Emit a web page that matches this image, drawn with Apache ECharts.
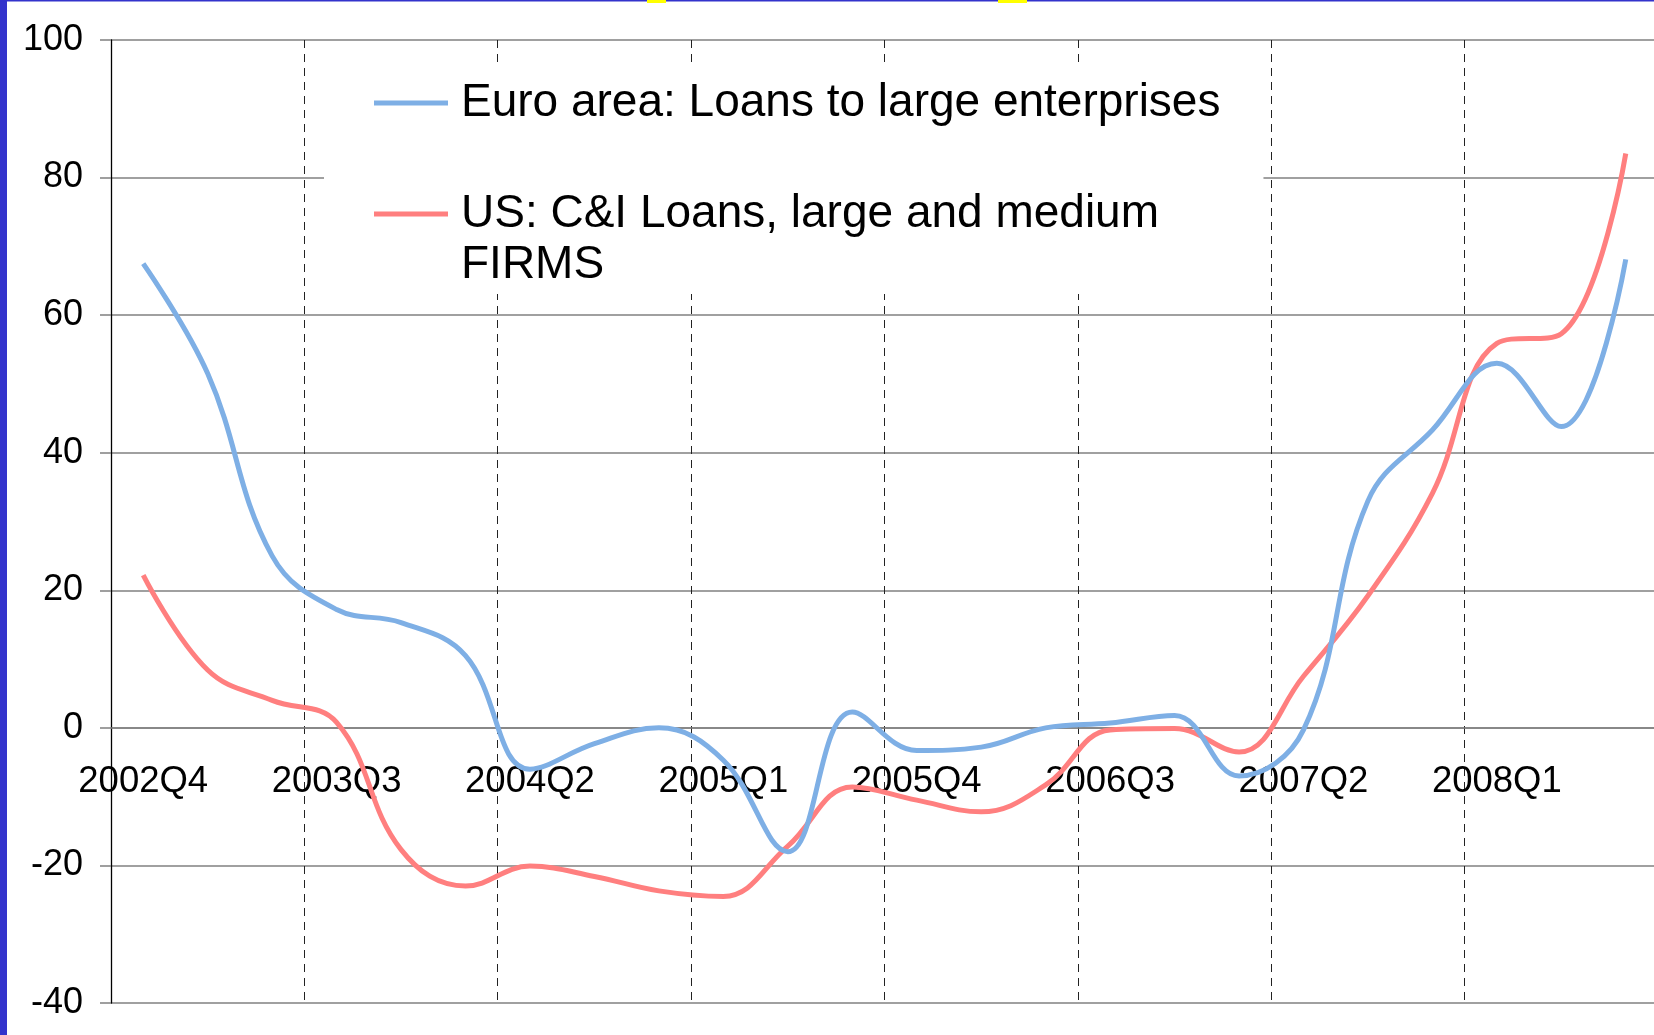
<!DOCTYPE html>
<html>
<head>
<meta charset="utf-8">
<title>Euro area vs US: credit standards for large firms</title>
<script src="https://cdn.jsdelivr.net/npm/echarts@6/dist/echarts.min.js"></script>
<style>
  html, body { margin: 0; padding: 0; background: #ffffff; }
  #chart { width: 1654px; height: 1035px; }
</style>
</head>
<body>
<div id="chart"></div>
<script>
// Quarterly survey periods
const quarters = [
  '2002Q4', '2003Q1', '2003Q2', '2003Q3', '2003Q4', '2004Q1',
  '2004Q2', '2004Q3', '2004Q4', '2005Q1', '2005Q2', '2005Q3',
  '2005Q4', '2006Q1', '2006Q2', '2006Q3', '2006Q4', '2007Q1',
  '2007Q2', '2007Q3', '2007Q4', '2008Q1', '2008Q2', '2008Q3'
];

// Net percentage of banks tightening standards
const euroLarge = [
  67.5, 51.5, 25.0, 17.2, 15.3, 10.5,
  -6.0, -2.3, 0.0, -4.7, -18.0, 2.3,
  -3.3, -2.8, 0.0, 0.7, 1.8, -7.0,
  -0.3, 33.0, 43.3, 53.0, 43.8, 68.1
];

const usLargeMedium = [
  22.2, 8.4, 4.0, 0.8, -17.7, -23.0,
  -20.1, -21.6, -23.7, -24.5, -17.2, -8.6,
  -10.5, -12.2, -8.3, -0.3, -0.1, -3.5,
  7.5, 19.2, 34.1, 55.9, 57.3, 83.5
];

const seriesNames = [
  'Euro area: Loans to large enterprises',
  'US: C&I Loans, large and medium FIRMS'
];

const yTicks = { min: -40, max: 100, step: 20 };

const FONT = '"Liberation Sans", Arial, Helvetica, sans-serif';
const BLUE = '#7EAFE5';
const RED = '#FF7F7F';
const GRID_GREY = '#808080';

// plot box
const PLOT = { left: 111, top: 40, width: 1547, height: 963 };
// the category axis sits on the zero line of the value axis
const zeroFromBottom = PLOT.height * (0 - yTicks.min) / (yTicks.max - yTicks.min);

const chart = echarts.init(document.getElementById('chart'), null, { renderer: 'canvas' });

chart.setOption({
  backgroundColor: '#ffffff',
  animation: false,
  textStyle: { fontFamily: FONT },
  grid: {
    left: PLOT.left, top: PLOT.top, width: PLOT.width, height: PLOT.height,
    containLabel: false,
    outerBoundsMode: 'none'
  },
  xAxis: {
    type: 'category',
    data: quarters,
    boundaryGap: true,
    position: 'bottom',
    offset: -zeroFromBottom,
    axisLine: { show: true, onZero: false, lineStyle: { color: GRID_GREY, width: 1.5 } },
    axisTick: { show: false },
    axisLabel: {
      interval: 2,
      color: '#000000',
      fontFamily: FONT,
      fontSize: 36.5,
      margin: 36
    },
    splitLine: {
      show: true,
      interval: 2,
      lineStyle: { color: '#222222', width: 1, type: [8, 6] }
    }
  },
  yAxis: {
    type: 'value',
    min: yTicks.min,
    max: yTicks.max,
    interval: yTicks.step,
    axisLine: { show: true, lineStyle: { color: '#000000', width: 1.3 } },
    axisTick: { show: true, length: 11, lineStyle: { color: GRID_GREY, width: 1.5 } },
    axisLabel: { color: '#000000', fontFamily: FONT, fontSize: 36, margin: 28 },
    splitLine: { show: true, lineStyle: { color: GRID_GREY, width: 1.5 } }
  },
  legend: {
    orient: 'vertical',
    left: 324,
    top: 65,
    padding: [12.5, 43, 3.5, 50],
    backgroundColor: '#ffffff',
    icon: 'rect',
    itemWidth: 74,
    itemHeight: 5,
    itemGap: 9,
    selectedMode: false,
    data: seriesNames,
    formatter: function (name) {
      // second entry wraps after "medium"; a blank lead line keeps the key on the first text line
      if (name === seriesNames[1]) {
        return ' \nUS: C&I Loans, large and medium\nFIRMS';
      }
      return name;
    },
    textStyle: {
      color: '#000000',
      fontFamily: FONT,
      fontSize: 46,
      lineHeight: 51,
      padding: [0, 0, 0, 8]
    }
  },
  series: [
    {
      name: seriesNames[0],
      type: 'line',
      data: euroLarge,
      smooth: 0.4,
      symbol: 'none',
      color: BLUE,
      lineStyle: { color: BLUE, width: 5 },
      z: 3
    },
    {
      name: seriesNames[1],
      type: 'line',
      data: usLargeMedium,
      smooth: 0.4,
      symbol: 'none',
      color: RED,
      lineStyle: { color: RED, width: 5 },
      z: 2
    }
  ],
  graphic: [
    // slide frame: left bar and top rule
    { type: 'rect', left: 0, top: 0, shape: { width: 7, height: 1035 }, style: { fill: '#3333CC' }, z: 10 },
    { type: 'rect', left: 0, top: 0, shape: { width: 1654, height: 1.5 }, style: { fill: '#3333CC' }, z: 10 },
    { type: 'rect', left: 647, top: 0, shape: { width: 19, height: 3 }, style: { fill: '#FFFF00' }, z: 11 },
    { type: 'rect', left: 998, top: 0, shape: { width: 29, height: 3 }, style: { fill: '#FFFF00' }, z: 11 }
  ]
});
</script>
</body>
</html>
